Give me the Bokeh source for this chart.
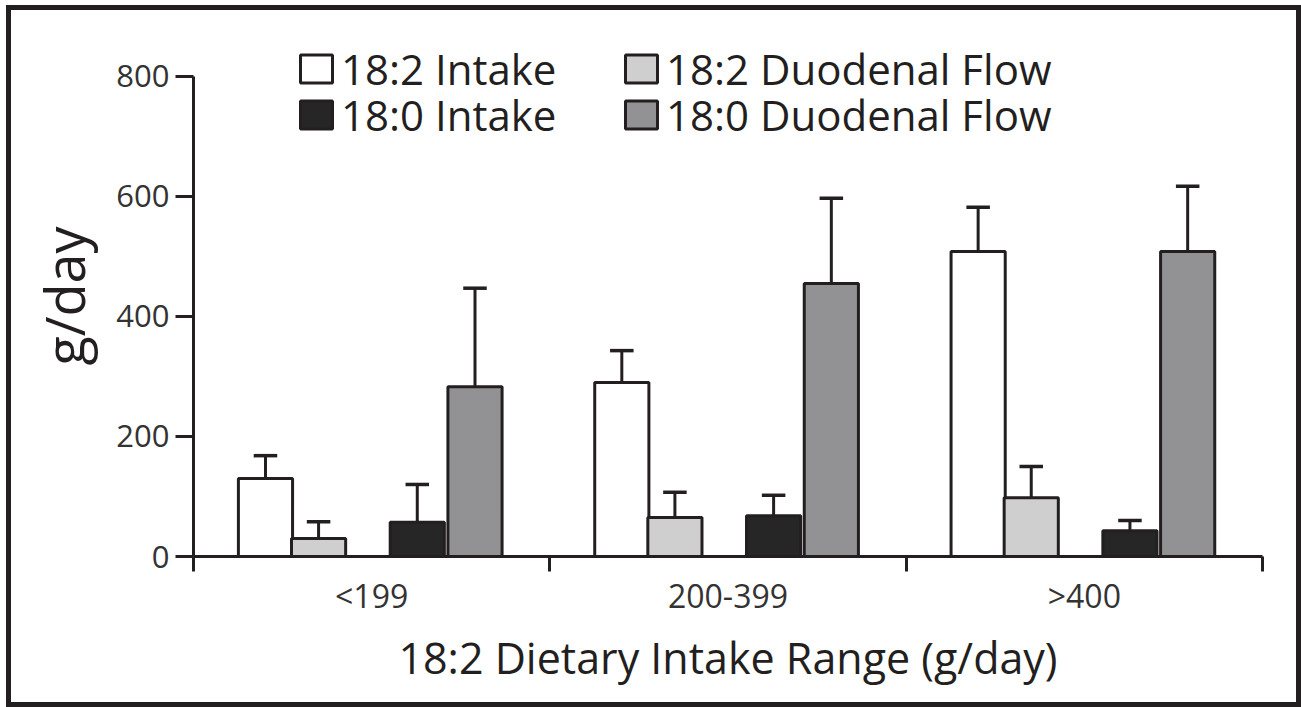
from bokeh.plotting import figure
from bokeh.models import Range1d, FixedTicker, Legend, LegendItem, ColumnDataSource
from bokeh.embed import file_html
from bokeh.resources import INLINE

categories = ["<199", "200-399", ">400"]
series_names = ["18:2 Intake", "18:2 Duodenal Flow", "18:0 Intake", "18:0 Duodenal Flow"]
intake_182 = [130, 290, 508]
intake_182_err = [38, 53, 74]
flow_182 = [30, 65, 98]
flow_182_err = [28, 42, 52]
intake_180 = [57, 68, 43]
intake_180_err = [63, 34, 17]
flow_180 = [283, 455, 508]
flow_180_err = [164, 142, 109]
y_ticks = [0, 200, 400, 600, 800]

FONT = "Open Sans"
INK = "#231f20"

values = [intake_182, flow_182, intake_180, flow_180]
errors = [intake_182_err, flow_182_err, intake_180_err, flow_180_err]
fills = ["#ffffff", "#cfcfcf", "#262626", "#929295"]
offsets = [-0.298, -0.149, 0.128, 0.290]
bar_w = 0.152
cap_half = 0.033

p = figure(width=1295, height=702, output_backend="svg", toolbar_location=None,
           x_range=Range1d(0, len(categories)), y_range=Range1d(0, 868),
           min_border_left=182, min_border_right=44, min_border_top=25,
           min_border_bottom=156)
p.styles = {"border": "5px solid #231f20", "margin-left": "6px", "margin-top": "5px"}
p.outline_line_color = None
p.xgrid.visible = False
p.ygrid.visible = False
p.background_fill_color = "white"
p.border_fill_color = "white"

renderers = []
for vals, errs, fill, off in zip(values, errors, fills, offsets):
    xs = [i + 0.5 + off for i in range(len(categories))]
    tops = [v + e for v, e in zip(vals, errs)]
    src = ColumnDataSource(dict(x=xs, top=vals, etop=tops,
                                cx0=[x - cap_half for x in xs],
                                cx1=[x + cap_half for x in xs]))
    p.segment(x0="x", y0="top", x1="x", y1="etop", source=src,
              line_color=INK, line_width=3)
    p.segment(x0="cx0", y0="etop", x1="cx1", y1="etop", source=src,
              line_color=INK, line_width=3.5)
    r = p.vbar(x="x", top="top", bottom=0, width=bar_w, source=src,
               fill_color=fill, line_color=INK, line_width=3)
    renderers.append(r)

# axes
xa = p.xaxis[0]
xa.ticker = FixedTicker(ticks=[i + 0.5 for i in range(len(categories))],
                        minor_ticks=list(range(len(categories) + 1)))
xa.major_label_overrides = {i + 0.5: c for i, c in enumerate(categories)}
xa.bounds = (0, len(categories))
xa.major_tick_line_color = None
xa.major_tick_out = 15
xa.major_tick_in = 0
xa.minor_tick_out = 15
xa.minor_tick_in = 0
xa.minor_tick_line_width = 3
xa.minor_tick_line_color = INK
xa.axis_line_width = 3
xa.axis_line_color = INK
xa.major_label_text_font = FONT
xa.major_label_text_font_size = "32px"
xa.major_label_text_color = "#333333"
xa.major_label_standoff = 2
xa.axis_label = "18:2 Dietary Intake Range (g/day)"
xa.axis_label_text_font = FONT
xa.axis_label_text_font_size = "43px"
xa.axis_label_text_font_style = "normal"
xa.axis_label_text_color = INK
xa.axis_label_standoff = 8

ya = p.yaxis[0]
ya.ticker = FixedTicker(ticks=y_ticks)
ya.bounds = (0, 800)
ya.minor_tick_line_color = None
ya.major_tick_out = 18
ya.major_tick_in = 0
ya.major_tick_line_width = 3
ya.major_tick_line_color = INK
ya.axis_line_width = 3
ya.axis_line_color = INK
ya.major_label_text_font = FONT
ya.major_label_text_font_size = "31px"
ya.major_label_text_color = "#333333"
ya.major_label_standoff = 6
ya.axis_label = "g/day"
ya.axis_label_text_font = FONT
ya.axis_label_text_font_size = "54px"
ya.axis_label_text_font_style = "normal"
ya.axis_label_text_color = INK
ya.axis_label_standoff = 12

def make_legend(i, loc):
    lg = Legend(items=[LegendItem(label=series_names[i], renderers=[renderers[i]])],
                location=loc, orientation="vertical")
    lg.label_text_font = FONT
    lg.label_text_font_size = "42px"
    lg.label_text_color = INK
    lg.glyph_width = 40
    lg.glyph_height = 35
    lg.label_standoff = 5
    lg.spacing = 0
    lg.padding = 0
    lg.margin = 0
    lg.border_line_color = None
    lg.background_fill_alpha = 0
    return lg

p.add_layout(make_legend(0, (103, 459)), "center")
p.add_layout(make_legend(1, (428, 459)), "center")
p.add_layout(make_legend(2, (103, 413)), "center")
p.add_layout(make_legend(3, (428, 413)), "center")

open("out.html", "w").write(file_html(p, INLINE))
